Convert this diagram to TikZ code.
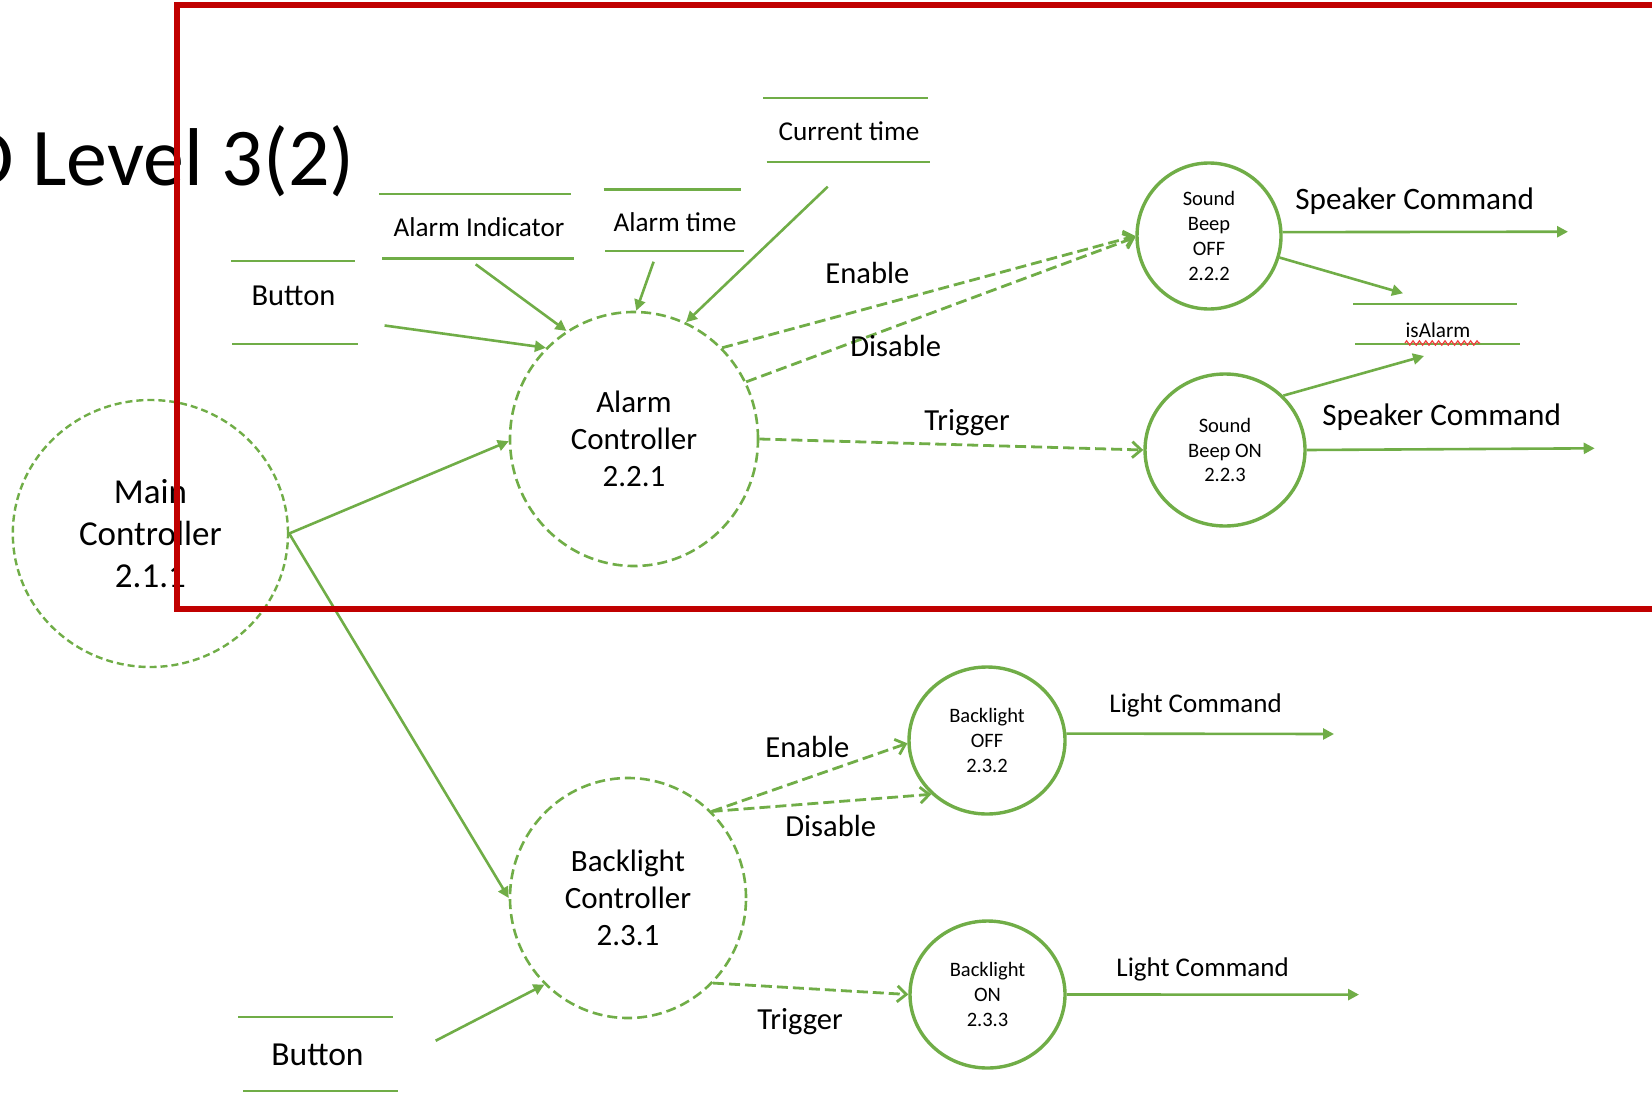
\documentclass[tikz,border=0pt]{standalone}
\usepackage{fontspec}
\setmainfont{Carlito}
\usetikzlibrary{shapes.geometric,arrows.meta,decorations.pathmorphing}
\definecolor{grn}{HTML}{70AD47}
\definecolor{framered}{HTML}{C00000}
\definecolor{squig}{HTML}{F03C3C}
\newcommand\setfs[2]{\fontsize{#1}{#2}\selectfont}
\begin{document}
\begin{tikzpicture}[x=0.5pt,y=-0.5pt,
  proc/.style={ellipse,draw=grn,line width=1.7pt,inner sep=0pt,align=center,
    font=\setfs{10.25}{12.4}},
  dproc/.style={ellipse,draw=grn,line width=1.3pt,dash pattern=on 5pt off 2.5pt,
    inner sep=0pt,align=center},
  flow/.style={draw=grn,line width=1.3pt,-{Triangle[length=5.5pt,width=5.5pt]}},
  dflow/.style={draw=grn,line width=1.4pt,dash pattern=on 5.5pt off 2.5pt,
    -{Straight Barb[length=4.5pt,width=8pt,line width=1.4pt]}},
  storeline/.style={draw=grn,line width=1.3pt},
  storetext/.style={anchor=base,inner sep=0pt},
  lbl/.style={anchor=base west,inner sep=0pt,font=\setfs{15.3}{18}},
  lcmd/.style={anchor=base west,inner sep=0pt,font=\setfs{13.5}{16}}]
\useasboundingbox (0,0) rectangle (1652,1092);
\clip (0,0) rectangle (1652,1092);

% page title
\node[anchor=base east,inner sep=0pt,font=\setfs{41}{49}] (title) at (355,185) {DFD Level 3(2)};

% processes
\node[dproc,minimum width=137.6pt,minimum height=133.5pt,line width=1.2pt,
  dash pattern=on 3.5pt off 2pt,font=\setfs{17.5}{21.2}] (main) at (150.4,533.5)
  {Main\\Controller\\2.1.1};
\node[dproc,minimum width=124pt,minimum height=127pt,font=\setfs{15.5}{18.6}]
  (alarm) at (634,439) {Alarm\\Controller\\2.2.1};
\node[dproc,minimum width=118pt,minimum height=120pt,font=\setfs{15.5}{18.6}]
  (blc) at (628,898) {Backlight\\Controller\\2.3.1};
\node[proc,minimum width=72pt,minimum height=73pt] (soff) at (1209,236)
  {Sound\\Beep\\OFF\\2.2.2};
\node[proc,minimum width=80pt,minimum height=76pt] (son) at (1225,450)
  {Sound\\Beep ON\\2.2.3};
\node[proc,minimum width=78pt,minimum height=73.5pt] (bloff) at (987,740.5)
  {Backlight\\OFF\\2.3.2};
\node[proc,minimum width=77.5pt,minimum height=73.5pt] (blon) at (987.5,994.5)
  {Backlight\\ON\\2.3.3};

% data stores
\draw[storeline] (231,261) -- (355,261) (232,344) -- (358,344);
\node[storetext,font=\setfs{15.25}{18}] (btnA) at (293.5,305) {Button};
\draw[storeline] (379,194) -- (571,194) (382,258.5) -- (574,258.5);
\node[storetext,font=\setfs{13.6}{16}] (aind) at (479,236) {Alarm Indicator};
\draw[storeline] (603.5,189.5) -- (740.5,189.5) (605,251) -- (744,251);
\node[storetext,font=\setfs{13.6}{16}] (atime) at (675,231) {Alarm time};
\draw[storeline] (763,98) -- (928,98) (766.5,162) -- (930,162);
\node[storetext,font=\setfs{13.6}{16}] (ctime) at (849,140.5) {Current time};
\draw[storeline] (1353,304) -- (1517,304) (1355,344) -- (1520,344);
\node[storetext,font=\setfs{10.6}{13}] (isal) at (1438,337) {isAlarm};
\draw[squig,line width=0.6pt,decorate,
  decoration={zigzag,segment length=3.2pt,amplitude=1.1pt}] (1405,343) -- (1480,343);
\draw[storeline] (238,1017) -- (393,1017) (243,1091) -- (398,1091);
\node[storetext,font=\setfs{16.8}{20}] (btnB) at (317.5,1065) {Button};

% free ends of the flows
\coordinate (fBtnA) at (384.6,325.5);
\coordinate (fAind) at (475.7,264.3);
\coordinate (fAtime) at (653.6,261.7);
\coordinate (fCtime) at (827.7,186.7);
\coordinate (fSpk1) at (1568,231.7);
\coordinate (fIs1) at (1403,293.3);
\coordinate (fIs2) at (1424,356);
\coordinate (fSpk2) at (1594.7,448.3);
\coordinate (fLc1) at (1334,734);
\coordinate (fLc2) at (1359,994.6);
\coordinate (fBtnB) at (435.7,1040.7);

% flows into the controllers
\draw[flow] (fBtnA) -- (alarm.134);
\draw[flow] (fAind) -- (alarm.122);
\draw[flow] (fAtime) -- (alarm.89);
\draw[flow] (fCtime) -- (alarm.66);
\draw[flow] (main.east) -- (alarm.181);
\draw[flow] (main.east) -- (blc.west);
\draw[flow] (fBtnB) -- (blc.226);

% alarm control flows
\draw[dflow] (alarm.46) -- (soff.180);
\draw[dflow] (alarm.27) -- (soff.181);
\draw[dflow] (alarm.0) -- (son.west);
\node[lbl] (lEnA) at (825,283) {Enable};
\node[lbl] (lDisA) at (850,356) {Disable};
\node[lbl] (lTrA) at (924,430) {Trigger};

% speaker outputs
\draw[flow] (soff.3) -- (fSpk1);
\draw[flow] (soff.-17) -- (fIs1);
\draw[flow] (son.43) -- (fIs2);
\draw[flow] (son.east) -- (fSpk2);
\node[lbl,font=\setfs{15.6}{18}] (lSpk1) at (1295,209) {Speaker Command};
\node[lbl,font=\setfs{15.6}{18}] (lSpk2) at (1322,425) {Speaker Command};

% backlight control flows
\draw[dflow] (blc.46) -- (bloff.182);
\draw[dflow] (blc.46) -- (bloff.224);
\draw[dflow] (blc.-45) -- (blon.west);
\node[lbl] (lEnB) at (765,757) {Enable};
\node[lbl] (lDisB) at (785,836) {Disable};
\node[lbl] (lTrB) at (757,1029) {Trigger};

% light outputs
\draw[flow] (bloff.5) -- (fLc1);
\draw[flow] (blon.east) -- (fLc2);
\node[lcmd] (lLc1) at (1109,712) {Light Command};
\node[lcmd] (lLc2) at (1116,976) {Light Command};

% highlight frame
\draw[framered,line width=3pt] (1700,5) -- (177,5) -- (177,609) -- (1700,609);
\end{tikzpicture}
\end{document}
